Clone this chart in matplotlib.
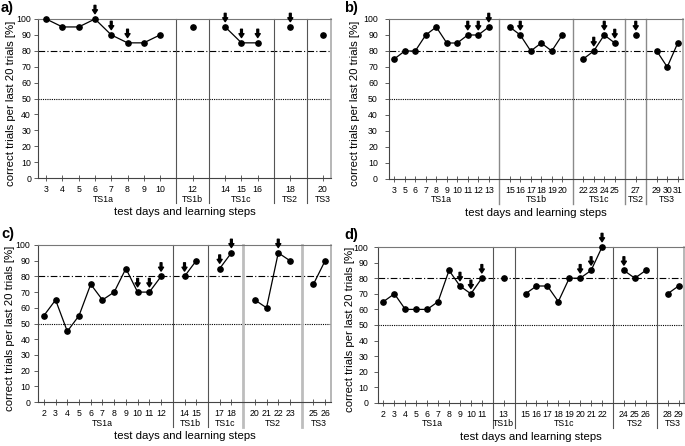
import matplotlib
matplotlib.use("Agg")
import matplotlib.pyplot as plt
import matplotlib.transforms as mtransforms

plt.rcParams['font.family'] = ['Liberation Sans', 'DejaVu Sans']

# ---------------- data ----------------
a_groups = ['TS1a', 'TS1b', 'TS1c', 'TS2', 'TS3']
a_days = [[3, 4, 5, 6, 7, 8, 9, 10], [12], [14, 15, 16], [18], [20]]
a_vals = [[100, 95, 95, 100, 90, 85, 85, 90], [95], [95, 85, 85], [95], [90]]
a_arrows = [6, 7, 8, 14, 15, 16, 18]

b_groups = ['TS1a', 'TS1b', 'TS1c', 'TS2', 'TS3']
b_days = [[3, 5, 6, 7, 8, 9, 10, 11, 12, 13], [15, 16, 17, 18, 19, 20],
          [22, 23, 24, 25], [27], [29, 30, 31]]
b_vals = [[75, 80, 80, 90, 95, 85, 85, 90, 90, 95], [95, 90, 80, 85, 80, 90],
          [75, 80, 90, 85], [90], [80, 70, 85]]
b_arrows = [11, 12, 13, 16, 23, 24, 25, 27]

c_groups = ['TS1a', 'TS1b', 'TS1c', 'TS2', 'TS3']
c_days = [[2, 3, 4, 5, 6, 7, 8, 9, 10, 11, 12], [14, 15], [17, 18],
          [20, 21, 22, 23], [25, 26]]
c_vals = [[55, 65, 45, 55, 75, 65, 70, 85, 70, 70, 80], [80, 90], [85, 95],
          [65, 60, 95, 90], [75, 90]]
c_arrows = [10, 11, 12, 14, 17, 18, 22]

d_groups = ['TS1a', 'TS1b', 'TS1c', 'TS2', 'TS3']
d_days = [[2, 3, 4, 5, 6, 7, 8, 9, 10, 11], [13],
          [15, 16, 17, 18, 19, 20, 21, 22], [24, 25, 26], [28, 29]]
d_vals = [[65, 70, 60, 60, 60, 65, 85, 75, 70, 80], [80],
          [70, 75, 75, 65, 80, 80, 85, 100], [85, 80, 85], [70, 75]]
d_arrows = [9, 10, 11, 20, 21, 22, 24]

y_ticks = list(range(0, 101, 10))
criterion_line = 80
chance_line = 50

xlabel = 'test days and learning steps'
ylabel = 'correct trials per last 20 trials [%]'

# ---------------- styling ----------------
DARK = '#555555'
LIGHT = '#bdbdbd'
sep_styles = {
    'a': [(DARK, 0.8)] * 4,
    'b': [('#8a8a8a', 1.0)] * 4,
    'c': [(DARK, 0.8), (DARK, 0.8), (LIGHT, 2.0), (LIGHT, 2.0)],
    'd': [(DARK, 0.8)] * 4,
}

W, H = 685, 446
fig = plt.figure(figsize=(W / 100, H / 100), dpi=100)

# axes rectangles in pixels: left, top, right, bottom
rects = {
    'a': (38, 19, 331, 178),
    'b': (389, 19, 683, 179),
    'c': (38, 245, 331, 402),
    'd': (378, 247, 684, 403),
}
# per panel: ylabel centre distance from spine (px), tick label pad (pt)
ylab_off = {'a': 27, 'b': 34, 'c': 28, 'd': 28}
ytick_pad = {'a': 2, 'b': 5, 'c': 2.5, 'd': 4}


def px_rect(r):
    l, t, rr, b = r
    return [l / W, 1 - b / H, (rr - l) / W, (b - t) / H]


def panel(key, groups, days, vals, arrows):
    ax = fig.add_axes(px_rect(rects[key]))
    w_px = rects[key][2] - rects[key][0]
    h_px = rects[key][3] - rects[key][1]
    pos = []
    seps = []
    s = 0
    for gi, g in enumerate(days):
        gp = []
        for _ in g:
            gp.append(s)
            s += 1
        pos.append(gp)
        if gi < len(days) - 1:
            seps.append(s)
            s += 1
    nslots = s
    ax.set_xlim(-0.5, nslots - 0.5)
    ax.set_ylim(0, 100)

    trans = mtransforms.blended_transform_factory(ax.transData, ax.transAxes)
    ax.axhline(criterion_line, color='black', lw=0.8, ls=(0, (6, 2, 1, 2)), zorder=1)
    ax.axhline(chance_line, color='black', lw=0.8, ls=(0, (1, 1)), zorder=1)

    below = 25 / h_px
    for (sx, (col, lw)) in zip(seps, sep_styles[key]):
        ax.plot([sx, sx], [-below, 1], color=col, lw=lw, transform=trans,
                clip_on=False, zorder=2)

    allpos, alllab = [], []
    for gi in range(len(days)):
        ax.plot(pos[gi], vals[gi], color='black', lw=0.9, marker='o',
                markersize=3.8, zorder=3, clip_on=False)
        allpos += pos[gi]
        alllab += [str(d) for d in days[gi]]
        cx = (pos[gi][0] + pos[gi][-1]) / 2
        ax.text(cx, -21 / h_px, groups[gi], transform=trans, ha='center',
                va='center', fontsize=6.3)
        for d, p, v in zip(days[gi], pos[gi], vals[gi]):
            if d in arrows:
                ax.annotate('', xy=(p, v), xytext=(0, 9.8), textcoords='offset points',
                            xycoords='data',
                            arrowprops=dict(arrowstyle='simple,head_length=0.28,head_width=0.36,tail_width=0.13',
                                            color='black', shrinkA=0, shrinkB=3.8),
                            annotation_clip=False, zorder=4)

    ax.set_xticks(allpos)
    ax.set_xticklabels(alllab, fontsize=6.3)
    ax.tick_params(axis='x', direction='inout', length=4, width=0.6,
                   color='#444444', pad=3)
    ax.set_yticks(y_ticks)
    ax.set_yticklabels([str(t) for t in y_ticks], fontsize=6.3)
    ax.tick_params(axis='y', direction='out', length=3, width=0.6,
                   color='#444444', pad=ytick_pad[key])
    for sp in ['left', 'bottom']:
        ax.spines[sp].set_color('#444444')
        ax.spines[sp].set_linewidth(0.8)
    ax.spines['top'].set_color('#777777')
    ax.spines['top'].set_linewidth(0.8)
    ax.spines['right'].set_color('#aaaaaa')
    ax.spines['right'].set_linewidth(1.2)

    ax.text(0.5, -34 / h_px, xlabel, transform=ax.transAxes, ha='center',
            va='center', fontsize=8.2)
    ax.set_ylabel(ylabel, fontsize=8.2)
    ax.yaxis.set_label_coords(-ylab_off[key] / w_px, 0.47)
    ax.yaxis.label.set_verticalalignment('center')
    return ax


panel('a', a_groups, a_days, a_vals, a_arrows)
panel('b', b_groups, b_days, b_vals, b_arrows)
panel('c', c_groups, c_days, c_vals, c_arrows)
panel('d', d_groups, d_days, d_vals, d_arrows)

for lab, x, y in [('a)', 1, 8), ('b)', 344, 8), ('c)', 1, 234), ('d)', 344, 235)]:
    fig.text(x / W, 1 - y / H, lab, fontsize=10.5, fontweight='bold', va='center')

fig.savefig('out.png', dpi=100)
